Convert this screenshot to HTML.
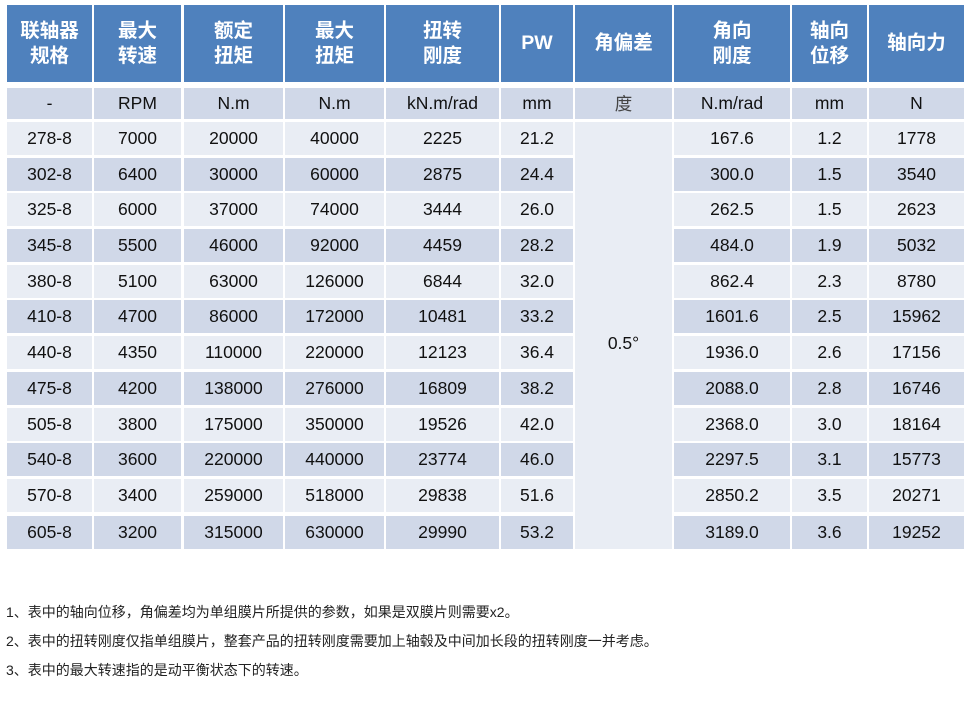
<!DOCTYPE html>
<html><head><meta charset="utf-8"><style>
html,body{margin:0;padding:0;background:#fff;}
body{width:965px;height:701px;position:relative;overflow:hidden;font-family:"Liberation Sans","Noto Sans CJK SC",sans-serif;}
.c{position:absolute;display:flex;align-items:center;justify-content:center;text-align:center;color:#111;font-size:17.5px;}
.h{background:#4f81bd;color:#fff;font-weight:bold;font-size:19.5px;line-height:25px;top:5px;height:77px;}
.u{background:#d0d8e8;top:88px;height:31px;}
.r{position:absolute;left:0;width:965px;height:33px;}
.r div{position:absolute;top:0;height:100%;display:flex;align-items:center;justify-content:center;color:#111;font-size:17.5px;}
.r.l div{background:#e9edf4;}
.r.d div{background:#d0d8e8;}
.r div:nth-child(1){left:7px;width:85px;}
.r div:nth-child(2){left:94px;width:87px;}
.r div:nth-child(3){left:184px;width:99px;}
.r div:nth-child(4){left:285px;width:99px;}
.r div:nth-child(5){left:386px;width:113px;}
.r div:nth-child(6){left:501px;width:72px;}
.r div:nth-child(7){left:674px;width:116px;}
.r div:nth-child(8){left:792px;width:75px;}
.r div:nth-child(9){left:869px;width:95px;}
.note{position:absolute;left:6px;font-size:14px;color:#222;font-family:"Liberation Sans","Noto Sans CJK SC",sans-serif;white-space:nowrap;}
</style></head><body>
<div class="c h" style="left:7px;width:85px">联轴器<br>规格</div>
<div class="c h" style="left:94px;width:87px">最大<br>转速</div>
<div class="c h" style="left:184px;width:99px">额定<br>扭矩</div>
<div class="c h" style="left:285px;width:99px">最大<br>扭矩</div>
<div class="c h" style="left:386px;width:113px">扭转<br>刚度</div>
<div class="c h" style="left:501px;width:72px">PW</div>
<div class="c h" style="left:575px;width:97px">角偏差</div>
<div class="c h" style="left:674px;width:116px">角向<br>刚度</div>
<div class="c h" style="left:792px;width:75px">轴向<br>位移</div>
<div class="c h" style="left:869px;width:95px">轴向力</div>

<div class="c u" style="left:7px;width:85px">-</div>
<div class="c u" style="left:94px;width:87px">RPM</div>
<div class="c u" style="left:184px;width:99px">N.m</div>
<div class="c u" style="left:285px;width:99px">N.m</div>
<div class="c u" style="left:386px;width:113px">kN.m/rad</div>
<div class="c u" style="left:501px;width:72px">mm</div>
<div class="c u" style="left:575px;width:97px;color:#444">度</div>
<div class="c u" style="left:674px;width:116px">N.m/rad</div>
<div class="c u" style="left:792px;width:75px">mm</div>
<div class="c u" style="left:869px;width:95px">N</div>

<div class="c" style="background:#e9edf4;left:575px;width:97px;top:122px;height:427px;"><span style="position:relative;top:8px">0.5°</span></div>

<div class="r l" style="top:122px"><div>278-8</div><div>7000</div><div>20000</div><div>40000</div><div>2225</div><div>21.2</div><div>167.6</div><div>1.2</div><div>1778</div></div>
<div class="r d" style="top:158px"><div>302-8</div><div>6400</div><div>30000</div><div>60000</div><div>2875</div><div>24.4</div><div>300.0</div><div>1.5</div><div>3540</div></div>
<div class="r l" style="top:193px"><div>325-8</div><div>6000</div><div>37000</div><div>74000</div><div>3444</div><div>26.0</div><div>262.5</div><div>1.5</div><div>2623</div></div>
<div class="r d" style="top:229px"><div>345-8</div><div>5500</div><div>46000</div><div>92000</div><div>4459</div><div>28.2</div><div>484.0</div><div>1.9</div><div>5032</div></div>
<div class="r l" style="top:265px"><div>380-8</div><div>5100</div><div>63000</div><div>126000</div><div>6844</div><div>32.0</div><div>862.4</div><div>2.3</div><div>8780</div></div>
<div class="r d" style="top:300px"><div>410-8</div><div>4700</div><div>86000</div><div>172000</div><div>10481</div><div>33.2</div><div>1601.6</div><div>2.5</div><div>15962</div></div>
<div class="r l" style="top:336px"><div>440-8</div><div>4350</div><div>110000</div><div>220000</div><div>12123</div><div>36.4</div><div>1936.0</div><div>2.6</div><div>17156</div></div>
<div class="r d" style="top:372px"><div>475-8</div><div>4200</div><div>138000</div><div>276000</div><div>16809</div><div>38.2</div><div>2088.0</div><div>2.8</div><div>16746</div></div>
<div class="r l" style="top:408px"><div>505-8</div><div>3800</div><div>175000</div><div>350000</div><div>19526</div><div>42.0</div><div>2368.0</div><div>3.0</div><div>18164</div></div>
<div class="r d" style="top:443px"><div>540-8</div><div>3600</div><div>220000</div><div>440000</div><div>23774</div><div>46.0</div><div>2297.5</div><div>3.1</div><div>15773</div></div>
<div class="r l" style="top:479px"><div>570-8</div><div>3400</div><div>259000</div><div>518000</div><div>29838</div><div>51.6</div><div>2850.2</div><div>3.5</div><div>20271</div></div>
<div class="r d" style="top:516px"><div>605-8</div><div>3200</div><div>315000</div><div>630000</div><div>29990</div><div>53.2</div><div>3189.0</div><div>3.6</div><div>19252</div></div>

<div class="note" style="top:602px">1、表中的轴向位移，角偏差均为单组膜片所提供的参数，如果是双膜片则需要x2。</div>
<div class="note" style="top:631px">2、表中的扭转刚度仅指单组膜片，整套产品的扭转刚度需要加上轴毂及中间加长段的扭转刚度一并考虑。</div>
<div class="note" style="top:660px">3、表中的最大转速指的是动平衡状态下的转速。</div>
</body></html>
